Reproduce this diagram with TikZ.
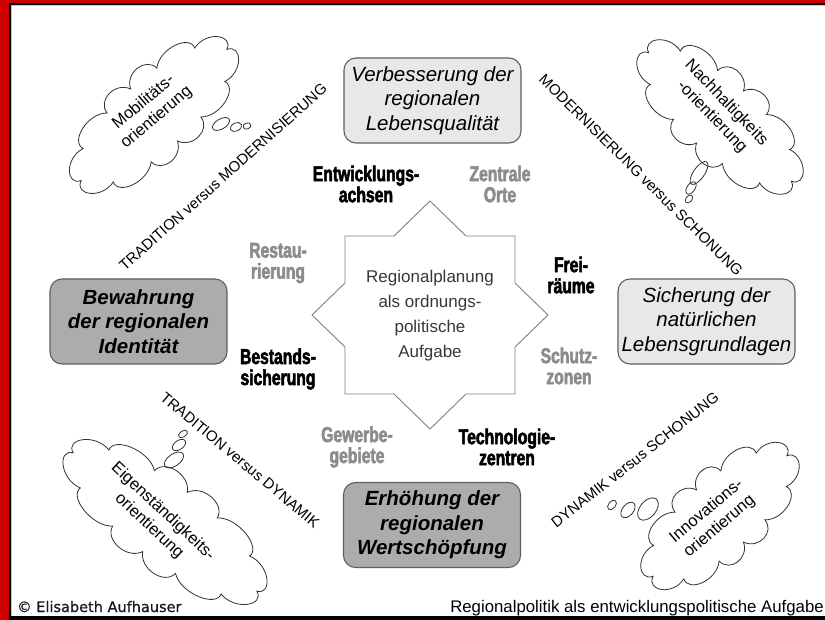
\documentclass[tikz,border=0pt]{standalone}
\usepackage{fontspec}
\setmainfont{Liberation Sans}
\newfontfamily\impactfont[FakeStretch=0.73,FakeBold=2.5]{Liberation Sans Bold}
\newfontfamily\creditfont[FakeBold=0.8]{DejaVu Sans}
\usetikzlibrary{shapes.geometric}
\definecolor{bordered}{RGB}{204,0,0}
\definecolor{lightbox}{RGB}{232,232,232}
\definecolor{darkbox}{RGB}{172,172,172}
\definecolor{boxline}{RGB}{95,95,95}
\definecolor{lblgray}{RGB}{140,140,140}
\definecolor{starline}{RGB}{128,128,128}
\definecolor{cloudline}{RGB}{50,50,50}
\definecolor{centertext}{RGB}{55,55,55}
% cloud outline: centre x, centre y, rotation, half axis A, half axis B
\newcommand{\thoughtoutline}[5]{%
 \begin{scope}[shift={(#1,#2)},rotate=#3]
 \draw[cloudstroke] (#4,0)
 \foreach \ta/\tb in {0/40,40/70,70/90,90/110,110/140,140/180,180/220,220/250,250/270,270/290,290/320,320/360}{
 .. controls ({(#4+16)*cos(\ta+0.17*(\tb-\ta))},{(#5+16)*sin(\ta+0.17*(\tb-\ta))})
 and ({(#4+16)*cos(\tb-0.17*(\tb-\ta))},{(#5+16)*sin(\tb-0.17*(\tb-\ta))})
 .. ({#4*cos(\tb)},{#5*sin(\tb)})
 } -- cycle;
 \end{scope}}
\begin{document}
\begin{tikzpicture}[x=1pt,y=-1pt,
 goalbox/.style={draw=boxline, line width=1.1pt, rounded corners=12pt, minimum width=177pt, minimum height=85pt, align=center, inner sep=0pt, font=\fontsize{20.5}{24.5}\selectfont\itshape},
 goallight/.style={goalbox, fill=lightbox},
 goaldark/.style={goalbox, fill=darkbox, font=\fontsize{20.5}{24.5}\selectfont\bfseries\itshape},
 instrlbl/.style={align=center, inner sep=0pt, font=\impactfont\fontsize{21.5}{21}\selectfont},
 instrblack/.style={instrlbl, text=black},
 instrgray/.style={instrlbl, text=lblgray},
 versustext/.style={inner sep=0pt, font=\fontsize{15}{18}\selectfont},
 cloudstroke/.style={draw=cloudline, line width=0.8pt},
 cloudtext/.style={align=center, inner sep=0pt, font=\fontsize{16.5}{20}\selectfont},
 thoughtbubble/.style={ellipse, draw=cloudline, line width=0.8pt, inner sep=0pt},
]
\path[use as bounding box] (0,0) rectangle (825,620);
\fill[white] (0,0) rectangle (825,620);
% frame
\fill[bordered] (0,0) rectangle (825,3.5);
\fill[bordered] (0,0) rectangle (9.5,620);
\draw[gray!45, line width=1pt] (11.8,620) -- (11.8,5.8) -- (825,5.8);
\draw[black, line width=1.5pt] (10.2,620) -- (10.2,4.2) -- (825,4.2);
\fill[black] (9.5,616) rectangle (825,620);

% central star
\begin{scope}[shift={(430,315)}]
\draw[starline, line width=0.9pt, fill=white]
 (0,-114) -- (36,-79) -- (85,-79) -- (85,-32) -- (118,0) -- (85,32) -- (85,79) -- (36,79)
 -- (0,114) -- (-36,79) -- (-85,79) -- (-85,32) -- (-118,0) -- (-85,-32) -- (-85,-79) -- (-36,-79) -- cycle;
\end{scope}
\node[align=center, inner sep=0pt, text=centertext, font=\fontsize{17}{25}\selectfont] (center) at (430,316)
 {Regionalplanung\\als ordnungs-\\politische\\Aufgabe};

% goal boxes
\node[goallight] (top) at (432.5,100.5) {Verbesserung der\\regionalen\\Lebensqualität};
\node[goaldark] (left) at (138.5,321.5) {Bewahrung\\der regionalen\\Identität};
\node[goallight] (right) at (706.5,321.5) {Sicherung der\\natürlichen\\Lebensgrundlagen};
\node[goaldark] (bottom) at (432,525) {Erhöhung der\\regionalen\\Wertschöpfung};

% instruments
\node[instrblack] (entw) at (366,184) {Entwicklungs-\\achsen};
\node[instrgray] (zentr) at (500,184) {Zentrale\\Orte};
\node[instrgray] (restau) at (278,263) {Restau-\\rierung};
\node[instrblack] (bestand) at (278,369) {Bestands-\\sicherung};
\node[instrblack] (frei) at (571,275) {Frei-\\räume};
\node[instrgray] (schutz) at (569,366) {Schutz-\\zonen};
\node[instrgray] (gewerbe) at (357,447) {Gewerbe-\\gebiete};
\node[instrblack] (techno) at (507,447) {Technologie-\\zentren};

% tensions
\node[versustext, rotate=41.8] (t1) at (223,177) {TRADITION versus MODERNISIERUNG};
\node[versustext, rotate=-44.7] (t2) at (641,175) {MODERNISIERUNG versus SCHONUNG};
\node[versustext, rotate=-40] (t3) at (240,460) {TRADITION versus DYNAMIK};
\node[versustext, rotate=38.2] (t4) at (635,460) {DYNAMIK versus SCHONUNG};

% clouds
\thoughtoutline{154}{115}{42}{98}{35}
\node[cloudtext, rotate=40] (c1) at (150,110) {Mobilitäts-\\orientierung};
\node[thoughtbubble, rotate=30, minimum width=19pt, minimum height=10pt] (b11) at (221,124) {};
\node[thoughtbubble, rotate=25, minimum width=12pt, minimum height=8pt] (b12) at (236,127) {};
\node[thoughtbubble, rotate=20, minimum width=8pt, minimum height=6pt] (b13) at (247,126) {};

\thoughtoutline{720}{117}{-42}{96}{35}
\node[cloudtext, rotate=-46] (c2) at (719,110) {Nachhaltigkeits\\-orientierung};
\node[thoughtbubble, rotate=55, minimum width=27pt, minimum height=11pt] (b21) at (699,173) {};
\node[thoughtbubble, rotate=55, minimum width=14pt, minimum height=8pt] (b22) at (691,188) {};
\node[thoughtbubble, rotate=50, minimum width=9pt, minimum height=6pt] (b23) at (689,199) {};

\thoughtoutline{165}{522}{-37}{115}{37}
\node[cloudtext, rotate=-43] (c3) at (156,519) {Eigenständigkeits-\\orientierung};
\node[thoughtbubble, rotate=35, minimum width=22pt, minimum height=12pt] (b31) at (174,460) {};
\node[thoughtbubble, rotate=35, minimum width=15pt, minimum height=9pt] (b32) at (179,445) {};
\node[thoughtbubble, rotate=35, minimum width=10pt, minimum height=6pt] (b33) at (183,434) {};

\thoughtoutline{720}{516}{42}{90}{35}
\node[cloudtext, rotate=40] (c4) at (713,519) {Innovations-\\orientierung};
\node[thoughtbubble, rotate=50, minimum width=26pt, minimum height=16pt] (b41) at (648,509) {};
\node[thoughtbubble, rotate=50, minimum width=18pt, minimum height=11pt] (b42) at (628,510) {};
\node[thoughtbubble, rotate=50, minimum width=11pt, minimum height=7pt] (b43) at (612,505) {};

% footer
\node[anchor=base west, inner sep=0pt, text=black!90, font=\creditfont\fontsize{14.5}{16}\selectfont] (credit) at (17,612) {© Elisabeth Aufhauser};
\node[anchor=base east, inner sep=0pt, font=\fontsize{16.8}{19}\selectfont] (title) at (824,612) {Regionalpolitik als entwicklungspolitische Aufgabe};
\end{tikzpicture}
\end{document}
